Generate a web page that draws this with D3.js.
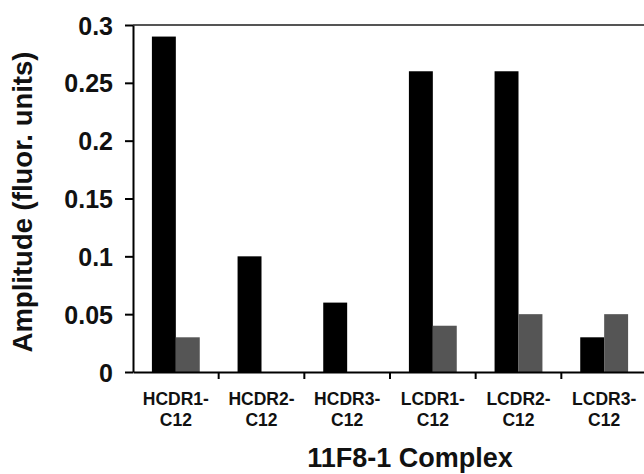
<!DOCTYPE html>
<html>
<head>
<meta charset="utf-8">
<script src="https://cdn.jsdelivr.net/npm/d3@7"></script>
<style>
  body { margin: 0; background: #fff; }
  svg text { font-family: "Liberation Sans", Arial, sans-serif; font-weight: bold; fill: #111; }
</style>
</head>
<body>
<div class="app"></div>
<script>
const categories = ['HCDR1-C12', 'HCDR2-C12', 'HCDR3-C12', 'LCDR1-C12', 'LCDR2-C12', 'LCDR3-C12']
const seriesA = [0.29, 0.10, 0.06, 0.26, 0.26, 0.03]
const seriesB = [0.03, 0, 0, 0.04, 0.05, 0.05]
const yTicks = [0, 0.05, 0.1, 0.15, 0.2, 0.25, 0.3]
const yLabels = ['0', '0.05', '0.1', '0.15', '0.2', '0.25', '0.3']

const W = 644, H = 474
const mLeft = 133, mRight = 647, mTop = 25, mBottom = 372

const svg = d3.select('.app').append('svg').attr('width', W).attr('height', H).style('display', 'block')

const x0 = d3.scaleBand().domain(categories).range([mLeft, mRight]).padding(0)
const x1 = d3.scaleBand().domain(['a', 'b']).range([0, x0.bandwidth()]).paddingInner(0).paddingOuter(0.79)
const y = d3.scaleLinear().domain([0, 0.3]).range([mBottom, mTop])

// top frame line
svg.append('line')
  .attr('x1', mLeft).attr('x2', W).attr('y1', y(0.3)).attr('y2', y(0.3))
  .attr('stroke', '#555').attr('stroke-width', 2)

const rows = categories.map((c, i) => ({ c, a: seriesA[i], b: seriesB[i] }))

const g = svg.append('g')
g.selectAll('g.cat').data(rows).enter().append('g')
  .attr('transform', d => `translate(${x0(d.c)},0)`)
  .each(function (d) {
    const grp = d3.select(this)
    grp.append('rect')
      .attr('x', x1('a')).attr('width', x1.bandwidth())
      .attr('y', y(d.a)).attr('height', y(0) - y(d.a))
      .attr('fill', '#000')
    if (d.b > 0) {
      grp.append('rect')
        .attr('x', x1('b')).attr('width', x1.bandwidth())
        .attr('y', y(d.b)).attr('height', y(0) - y(d.b))
        .attr('fill', '#555')
    }
  })

// y axis
const yAxis = svg.append('g')
  .attr('transform', `translate(${mLeft},0)`)
  .call(d3.axisLeft(y).tickValues(yTicks).tickFormat((d, i) => yLabels[i]).tickSize(8).tickPadding(12).tickSizeOuter(0))
yAxis.select('.domain').attr('stroke', '#000').attr('stroke-width', 2)
yAxis.selectAll('.tick line').attr('stroke', '#000').attr('stroke-width', 2)
yAxis.selectAll('.tick text').style('font-size', '25px').attr('dy', '0.36em')

// x axis
const xAxis = svg.append('g')
  .attr('transform', `translate(0,${mBottom})`)
  .call(d3.axisBottom(x0).tickSize(0).tickSizeOuter(0).tickFormat(''))
xAxis.select('.domain').attr('stroke', '#000').attr('stroke-width', 2)

// boundary ticks
xAxis.selectAll('line.bt').data(categories.slice(0, -1)).enter().append('line')
  .attr('class', 'bt')
  .attr('x1', d => x0(d) + x0.bandwidth()).attr('x2', d => x0(d) + x0.bandwidth())
  .attr('y1', 0).attr('y2', 7)
  .attr('stroke', '#000').attr('stroke-width', 2)

// two line category labels
xAxis.selectAll('.tick').each(function (d) {
  const parts = d.split('-')
  const t = d3.select(this).append('text')
    .attr('text-anchor', 'middle')
    .style('font-size', '17.5px')
  t.append('tspan').attr('x', 0).attr('y', 33).text(parts[0] + '-')
  t.append('tspan').attr('x', 0).attr('y', 54).text(parts[1])
})

// axis titles
svg.append('text')
  .attr('x', 410).attr('y', 467)
  .attr('text-anchor', 'middle')
  .style('font-size', '27px')
  .text('11F8-1 Complex')

svg.append('text')
  .attr('transform', `translate(32,202) rotate(-90)`)
  .attr('text-anchor', 'middle')
  .style('font-size', '27.5px')
  .text('Amplitude (fluor. units)')
</script>
</body>
</html>
